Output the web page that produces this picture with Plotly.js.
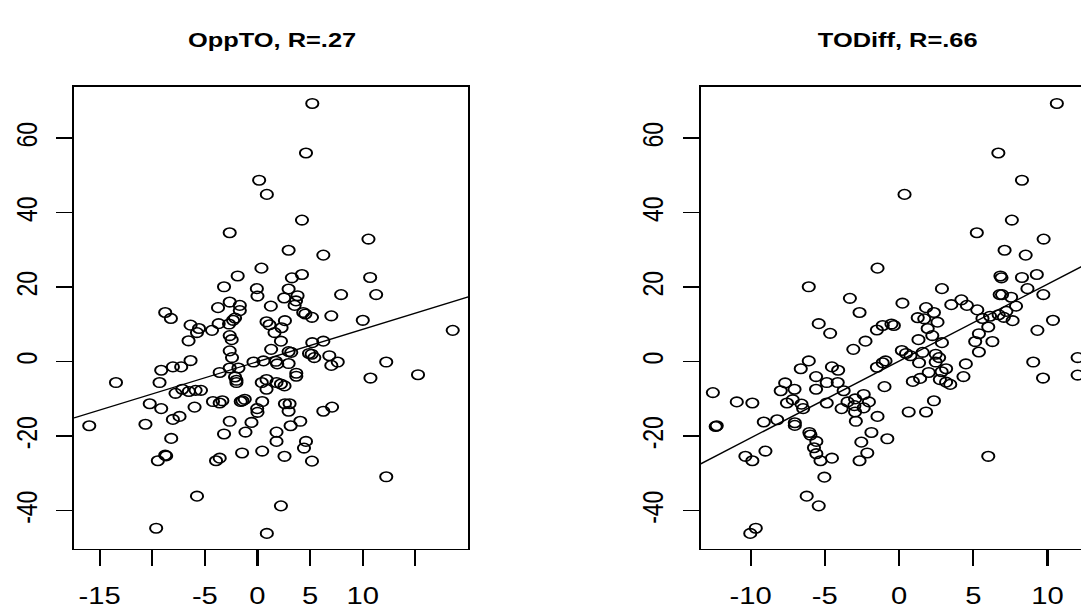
<!DOCTYPE html>
<html>
<head>
<meta charset="utf-8">
<script src="https://cdn.plot.ly/plotly-3.0.1.min.js"></script>
<style>
  html, body { margin: 0; padding: 0; background: #fff; overflow: hidden; width: 1081px; height: 609px; }
  #wrap { position: absolute; left: 0; top: 0; transform-origin: 0 0; }
</style>
</head>
<body>
<div id="wrap"><div id="chart"></div></div>
<script>
// ---- data ----
const oppTO_x = [5.21,4.61,0.16,0.89,4.23,-2.64,10.55,2.96,6.26,0.38,
  -1.88,4.23,3.27,10.71,-3.18,-0.06,2.96,7.95,11.28,0.00,
  2.54,3.81,3.66,3.53,-2.64,-1.68,-3.75,-1.68,1.27,-8.77,
  4.35,4.55,-8.23,7.02,5.18,-2.13,-2.32,0.86,2.61,10.01,
  -6.36,-3.69,-2.70,1.14,-5.56,-4.32,2.29,-5.75,1.62,18.56,
  -2.64,-2.45,-6.55,2.23,5.21,6.26,1.30,-2.64,2.96,3.21,
  4.90,5.15,5.40,6.83,-2.42,-6.36,-0.38,0.57,1.75,1.88,
  2.96,7.63,7.02,12.24,-7.25,-8.04,-9.15,-2.64,-1.81,-3.59,
  3.69,3.69,15.26,10.74,-2.13,-2.00,-2.00,-13.45,-9.31,0.86,
  0.41,1.81,2.23,2.57,0.86,-7.15,-7.79,-6.52,-5.88,-5.37,
  -10.24,-9.15,-4.23,-3.34,-3.59,-1.59,-1.21,-1.43,0.45,2.61,
  3.05,2.96,-0.03,0.00,6.26,7.09,-5.98,-8.04,-7.41,-10.65,
  -15.99,-2.64,-0.57,3.15,4.07,-8.20,-3.18,-1.14,1.81,1.81,
  4.61,4.42,-9.47,-8.77,-8.68,-3.94,-3.59,-1.46,0.45,2.57,
  5.18,12.24,-5.75,2.23,-9.63,0.89];
const oppTO_y = [69.3,56.0,48.7,44.9,38.0,34.6,32.9,29.9,28.6,25.1,
  23.0,23.4,22.5,22.6,20.1,19.6,19.5,18.0,18.0,17.6,
  17.1,17.7,16.3,15.1,16.0,15.1,14.5,13.7,14.9,13.2,
  13.2,12.8,11.6,12.3,11.9,11.7,11.1,10.7,11.0,11.1,
  9.8,10.2,10.1,9.9,8.9,8.4,9.1,7.8,7.8,8.4,
  7.0,5.9,5.6,5.5,5.1,5.5,3.3,2.9,2.7,2.5,
  2.2,2.0,1.1,1.6,1.1,0.3,-0.1,0.2,0.1,-0.6,
  -0.5,-0.1,-1.0,-0.1,-1.4,-1.4,-2.3,-1.7,-1.7,-2.9,
  -3.1,-3.9,-3.5,-4.4,-4.1,-5.0,-5.6,-5.6,-5.6,-4.8,
  -5.6,-5.6,-6.0,-6.5,-7.4,-7.4,-8.5,-8.0,-7.7,-7.7,
  -11.3,-12.6,-10.7,-10.5,-11.1,-10.7,-10.1,-10.5,-10.7,-11.3,
  -11.3,-13.3,-12.6,-13.6,-13.3,-12.2,-12.2,-15.5,-14.7,-16.8,
  -17.2,-16.0,-16.3,-17.2,-16.0,-20.6,-19.4,-18.9,-18.9,-21.4,
  -21.4,-23.2,-26.6,-25.1,-25.3,-26.6,-25.9,-24.5,-24.0,-25.4,
  -26.7,-30.9,-36.1,-38.7,-44.7,-46.1];

const toDiff_x = [10.63,6.69,8.28,0.37,7.60,5.24,9.74,7.11,8.53,-1.45,
  6.83,9.28,6.90,8.28,2.89,-6.08,8.65,6.78,6.94,9.72,
  7.55,-3.31,0.23,3.52,4.20,4.57,1.82,5.27,7.88,-2.66,
  2.35,1.26,1.70,2.59,5.62,6.13,6.71,7.23,7.06,7.65,
  10.37,-5.41,-1.10,-0.51,-0.35,-4.64,-1.49,1.93,6.01,9.32,
  2.24,5.38,-2.26,1.31,2.89,5.13,6.29,-3.08,0.19,0.47,
  0.77,1.59,2.47,2.70,5.38,-6.08,-0.91,-1.10,1.35,2.47,
  4.50,9.04,12.03,-6.62,-1.49,-4.52,-4.10,2.00,3.17,2.87,
  12.03,-5.59,9.70,4.34,1.42,0.93,2.75,3.17,3.45,-7.67,
  -4.87,-4.13,-0.98,-12.54,-7.97,-7.04,-5.59,-3.73,-2.38,-10.93,
  -9.88,-7.55,-7.16,-6.57,-6.46,-4.87,-3.47,-2.96,-2.03,-3.87,
  -3.01,-2.96,-2.38,2.35,0.65,1.82,-2.91,-1.45,-9.11,-8.21,
  -7.02,-7.02,-12.35,-12.28,-0.79,-1.86,-6.04,-5.97,-5.57,-2.54,
  -2.14,-5.73,-5.57,-9.00,-10.35,-9.88,-4.52,-5.29,-2.66,6.01,
  -5.03,-6.22,-5.41,-9.65,-10.02];
const toDiff_y = [69.3,56.0,48.7,44.9,38.0,34.6,32.9,29.9,28.6,25.1,
  23.0,23.4,22.5,22.6,19.6,20.1,19.6,18.0,18.0,18.0,
  17.3,17.0,15.7,15.3,16.6,15.1,14.5,13.9,14.9,13.2,
  13.2,11.8,11.5,10.6,11.6,12.2,12.6,13.5,11.9,11.0,
  11.1,10.2,9.7,10.1,9.7,7.6,8.5,8.9,9.3,8.4,
  7.0,7.5,5.5,5.9,5.1,5.4,5.4,3.3,3.0,2.2,
  1.6,2.5,2.0,1.1,2.6,0.2,0.2,-0.3,-0.3,-0.1,
  -0.6,-0.1,1.1,-1.9,-1.5,-1.4,-2.3,-2.9,-1.9,-2.7,
  -3.6,-4.0,-4.4,-4.0,-4.5,-5.3,-4.8,-5.5,-6.1,-5.7,
  -5.6,-5.6,-6.7,-8.3,-7.8,-7.4,-7.4,-7.8,-8.8,-10.8,
  -11.1,-11.1,-10.2,-11.4,-12.6,-11.1,-10.8,-10.0,-10.8,-12.6,
  -11.8,-13.5,-12.4,-10.5,-13.5,-13.5,-16.0,-14.7,-16.2,-15.6,
  -16.4,-17.1,-17.4,-17.2,-20.7,-19.0,-19.0,-19.7,-21.4,-21.6,
  -24.5,-23.1,-24.7,-24.0,-25.4,-26.6,-25.9,-26.6,-26.6,-25.4,
  -31.0,-36.1,-38.7,-44.7,-46.1];

const titles = ["OppTO, R=.27", "TODiff, R=.66"];
const yTicks = [-40, -20, 0, 20, 40, 60];
const xTicksLeft = [-15, -10, -5, 0, 5, 10, 15];
const xTickTextLeft = ["-15", "", "-5", "0", "5", "10", ""];
const xTicksRight = [-10, -5, 0, 5, 10];
const xTickTextRight = ["-10", "-5", "0", "5", "10"];

// ---- geometry (the R device picture is stretched horizontally) ----
const S = 1.27;              // horizontal stretch
const LW = 866;              // layout width before stretch
const H = 609;
const FULLW = LW * S;
function fx(px) { return px / FULLW; }
function fy(py) { return (H - py) / H; }

function fit(x, y) {
  const n = x.length;
  let mx = 0, my = 0;
  for (let i = 0; i < n; i++) { mx += x[i]; my += y[i]; }
  mx /= n; my /= n;
  let sxy = 0, sxx = 0;
  for (let i = 0; i < n; i++) { sxy += (x[i] - mx) * (y[i] - my); sxx += (x[i] - mx) ** 2; }
  const b = sxy / sxx;
  return { a: my - b * mx, b: b };
}

const xRangeL = [-17.44, 20.04];
const xRangeR = [-13.36, 13.2];
const yRange = [-50.2, 73.8];

const fL = fit(oppTO_x, oppTO_y);
const fR = fit(toDiff_x, toDiff_y);

const marker = { symbol: 'circle-open', size: 9.6, color: '#000', line: { width: 1.55, color: '#000' } };

const traces = [
  { x: oppTO_x, y: oppTO_y, type: 'scatter', mode: 'markers', marker: marker, xaxis: 'x', yaxis: 'y', hoverinfo: 'x+y' },
  { x: xRangeL, y: xRangeL.map(v => fL.a + fL.b * v), type: 'scatter', mode: 'lines',
    line: { color: '#000', width: 1.3 }, xaxis: 'x', yaxis: 'y', hoverinfo: 'skip' },
  { x: toDiff_x, y: toDiff_y, type: 'scatter', mode: 'markers', marker: marker, xaxis: 'x2', yaxis: 'y2', hoverinfo: 'x+y' },
  { x: xRangeR, y: xRangeR.map(v => fR.a + fR.b * v), type: 'scatter', mode: 'lines',
    line: { color: '#000', width: 1.3 }, xaxis: 'x2', yaxis: 'y2', hoverinfo: 'skip' }
];

const fontFam = '"Liberation Sans", Arial, Helvetica, sans-serif';
const tickFont = { family: fontFam, size: 23, color: '#000' };

function xAxis(dom, range, vals, text) {
  return {
    domain: dom, range: range, autorange: false, showgrid: false, zeroline: false,
    showline: true, mirror: true, linecolor: '#000', linewidth: 1.7,
    ticks: 'outside', ticklen: 16, tickwidth: 1.7, tickcolor: '#000',
    tickmode: 'array', tickvals: vals, ticktext: text, tickfont: tickFont,
    ticklabelstandoff: 10, automargin: false, fixedrange: true
  };
}
function yAxis(range, anchor) {
  return {
    domain: [fy(548.7), fy(86.7)], range: range, autorange: false, showgrid: false, zeroline: false,
    showline: true, mirror: true, linecolor: '#000', linewidth: 1.7, anchor: anchor,
    ticks: 'outside', ticklen: 16 / S, tickwidth: 1.4, tickcolor: '#000',
    tickmode: 'array', tickvals: yTicks, ticktext: yTicks.map(String), tickfont: tickFont,
    tickangle: -90, ticklabelstandoff: 6, automargin: false, fixedrange: true
  };
}

const domL = [fx(74), fx(468.3)];
const domR = [fx(700.7), fx(1095)];

const layout = {
  width: LW, height: H,
  margin: { l: 0, r: 0, t: 0, b: 0, pad: 0 },
  paper_bgcolor: '#fff', plot_bgcolor: '#fff',
  showlegend: false,
  xaxis: Object.assign(xAxis(domL, xRangeL, xTicksLeft, xTickTextLeft), { anchor: 'y' }),
  yaxis: yAxis(yRange, 'x'),
  xaxis2: Object.assign(xAxis(domR, xRangeR, xTicksRight, xTickTextRight), { anchor: 'y2' }),
  yaxis2: yAxis(yRange, 'x2'),
  annotations: [
    { text: '<b>' + titles[0] + '</b>', xref: 'paper', yref: 'paper', x: (domL[0] + domL[1]) / 2, y: fy(40),
      xanchor: 'center', yanchor: 'middle', showarrow: false, font: { family: fontFam, size: 20, color: '#000' } },
    { text: '<b>' + titles[1] + '</b>', xref: 'paper', yref: 'paper', x: (domR[0] + domR[1]) / 2, y: fy(40),
      xanchor: 'center', yanchor: 'middle', showarrow: false, font: { family: fontFam, size: 20, color: '#000' } }
  ]
};

document.getElementById('wrap').style.transform = 'scaleX(' + S + ')';
Plotly.newPlot('chart', traces, layout, { displayModeBar: false, staticPlot: true });
</script>
</body>
</html>
